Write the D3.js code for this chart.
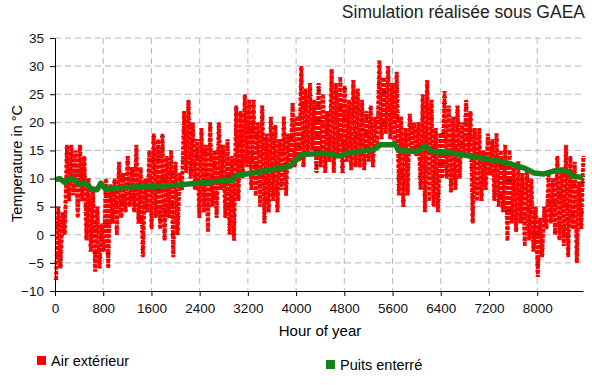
<!DOCTYPE html>
<html>
<head>
<meta charset="utf-8">
<script src="https://cdn.jsdelivr.net/npm/d3@7"></script>
<style>
  body { margin: 0; background: #fff; }
  svg { font-family: "Liberation Sans", Arial, sans-serif; }
  .grid line { stroke: #b8b8b8; stroke-dasharray: 6,4; }
  .axis path, .axis line { stroke: #000; }
  .axis text { font-size: 13.5px; fill: #111; }
</style>
</head>
<body>
<div class="chart"></div>
<script>
// outdoor air, estimated low / high per 72-hour step
const stepHours = 72;
const airLow = [-8, -6, 0, 6, 7, 3, 6, -1, -3, -6.5, -6, -3, -6, 2, 0, 3, 4, 5, 4, 2,
  -4, 4, 1, 3, 1, -1, 3, -4, 0, 8, 11, 10, 8, 3, 4, 0.5, 5, 3, 8, 3,
  0, -1, 6, 10, 12, 8, 7, 5, 2, 4, 6, 4, 8, 7, 12, 12, 13, 12, 14, 15,
  11, 12, 11, 13, 11, 14, 11, 13, 11.5, 12, 12, 11.5, 13, 12, 16, 17, 18, 17, 16, 7,
  5, 7, 15, 14, 8, 4, 6, 5, 4, 10, 10, 7.5, 8, 10, 14, 14, 2, 6, 6, 8,
  10.5, 6, 5, 4, -1, 2, 0.5, 2, -2, -1, -3, -7.5, -4, 1, 2, 0, -1, -2, -4, 1,
  -5, 1];
const airHigh = [5, 4, 16, 16, 15, 16, 14, 10, 8, 5, 2, 10, 9, 10, 13, 11, 14, 12, 16, 12,
  10, 15, 18, 17, 18, 14, 15, 13, 11, 22, 24, 20, 17, 19, 16, 20, 15, 20, 16, 17,
  14, 23, 22, 25, 24, 24, 20, 23, 18, 21, 19.5, 17, 21, 18, 23.5, 21, 30, 26, 27, 24,
  27, 25, 22, 29.5, 27, 28, 26.5, 24, 27.5, 26, 24, 22, 23, 21, 31, 28, 30, 27, 29, 21,
  19, 21.5, 20, 20, 25, 27.5, 24, 19, 18, 25.5, 23, 21, 23, 20, 24, 22, 19, 19, 15, 18,
  17, 18, 15, 16, 15, 12, 13, 11, 12, 10, 5, 3, 5, 11, 10, 14, 12, 16, 14, 13,
  9.5, 14];

// buried pipe (Puits enterré)
const pipeHours = [0, 80, 160, 250, 330, 400, 500, 600, 700, 760, 830, 1000, 1300, 1600, 2000,
  2400, 2800, 2950, 3000, 3300, 3700, 3900, 4100, 4500, 4700, 4900, 5300, 5400, 5650, 5700,
  6000, 6150, 6250, 6600, 7000, 7500, 7800, 7950, 8100, 8300, 8500, 8600, 8760];
const pipeTemp = [9.8, 10, 9.3, 10, 9.8, 9, 9.2, 8.2, 8, 9.2, 8.2, 8.3, 8.5, 8.6, 8.8,
  9.2, 9.6, 9.7, 10.6, 11, 11.8, 12.2, 14.3, 14.5, 14, 14.6, 15.2, 16, 16, 15,
  14.8, 15.8, 14.8, 14.5, 13.8, 12.8, 11.8, 11, 10.8, 11.4, 11.3, 10.4, 10.2];

const xTicks = [0, 800, 1600, 2400, 3200, 4000, 4800, 5600, 6400, 7200, 8000];
const yTicks = [-10, -5, 0, 5, 10, 15, 20, 25, 30, 35];

const svgWidth = 592, svgHeight = 385;
const margin = { top: 38, right: 9, bottom: 94, left: 55 };
const width = svgWidth - margin.left - margin.right;
const height = svgHeight - margin.top - margin.bottom;

const svg = d3.select(".chart").append("svg")
  .attr("width", svgWidth)
  .attr("height", svgHeight);

const chartGroup = svg.append("g")
  .attr("transform", `translate(${margin.left}, ${margin.top})`);

const x = d3.scaleLinear().domain([0, 8760]).range([0, width]);
const y = d3.scaleLinear().domain([-10, 35]).range([height, 0]);

// grid
const grid = chartGroup.append("g").attr("class", "grid");
grid.selectAll(".gx").data(xTicks.slice(1)).enter().append("line")
  .attr("x1", d => x(d)).attr("x2", d => x(d))
  .attr("y1", 0).attr("y2", height);
grid.selectAll(".gy").data(yTicks.slice(1)).enter().append("line")
  .attr("x1", 0).attr("x2", width)
  .attr("y1", d => y(d)).attr("y2", d => y(d));

// outdoor air zigzag
const airPts = [];
airLow.forEach((lo, i) => {
  airPts.push([i * stepHours + 18, lo]);
  airPts.push([i * stepHours + 54, airHigh[i]]);
});
const line = d3.line().x(d => x(d[0])).y(d => y(d[1]));

chartGroup.append("path")
  .datum(airPts)
  .attr("d", line)
  .attr("fill", "none")
  .attr("stroke", "#5a0000")
  .attr("stroke-width", 4.5)
  .attr("stroke-dasharray", "1,5");
chartGroup.append("path")
  .datum(airPts)
  .attr("d", line)
  .attr("fill", "none")
  .attr("stroke", "#ff0000")
  .attr("stroke-width", 3.6)
  .attr("stroke-dasharray", "4,1");

// pipe
chartGroup.append("path")
  .datum(pipeHours.map((h, i) => [h, pipeTemp[i]]))
  .attr("d", line)
  .attr("fill", "none")
  .attr("stroke", "#17801a")
  .attr("stroke-width", 5.5)
  .attr("stroke-linejoin", "round");

// axes
chartGroup.append("g")
  .attr("class", "axis")
  .attr("transform", `translate(0, ${height})`)
  .call(d3.axisBottom(x).tickValues(xTicks).tickSize(5).tickSizeOuter(0).tickFormat(d3.format("d")))
  .call(g => g.selectAll("text").attr("dy", "1.05em"));

chartGroup.append("g")
  .attr("class", "axis")
  .call(d3.axisLeft(y).tickValues(yTicks).tickSize(5).tickSizeOuter(0))
  .call(g => g.selectAll("text").attr("x", -11));

// labels
chartGroup.append("text")
  .attr("transform", "rotate(-90)")
  .attr("x", -(163.5 - margin.top))
  .attr("y", 22 - margin.left)
  .attr("text-anchor", "middle")
  .attr("font-size", "14.5px")
  .text("Temperature in °C");

chartGroup.append("text")
  .attr("x", 320 - margin.left)
  .attr("y", 336 - margin.top)
  .attr("text-anchor", "middle")
  .attr("font-size", "15px")
  .text("Hour of year");

svg.append("text")
  .attr("x", 585)
  .attr("y", 18)
  .attr("text-anchor", "end")
  .attr("font-size", "17.5px")
  .attr("fill", "#222")
  .text("Simulation réalisée sous GAEA");

// legend
const legendItems = [
  { label: "Air extérieur", color: "#ff0000", x: 37, y: 356 },
  { label: "Puits enterré", color: "#17801a", x: 326, y: 360 }
];
const legend = svg.selectAll(".legend").data(legendItems).enter().append("g");
legend.append("rect")
  .attr("x", d => d.x).attr("y", d => d.y)
  .attr("width", 9).attr("height", 9)
  .attr("fill", d => d.color);
legend.append("text")
  .attr("x", d => d.x + 14).attr("y", d => d.y + 10)
  .attr("font-size", "14.5px")
  .text(d => d.label);
</script>
</body>
</html>
